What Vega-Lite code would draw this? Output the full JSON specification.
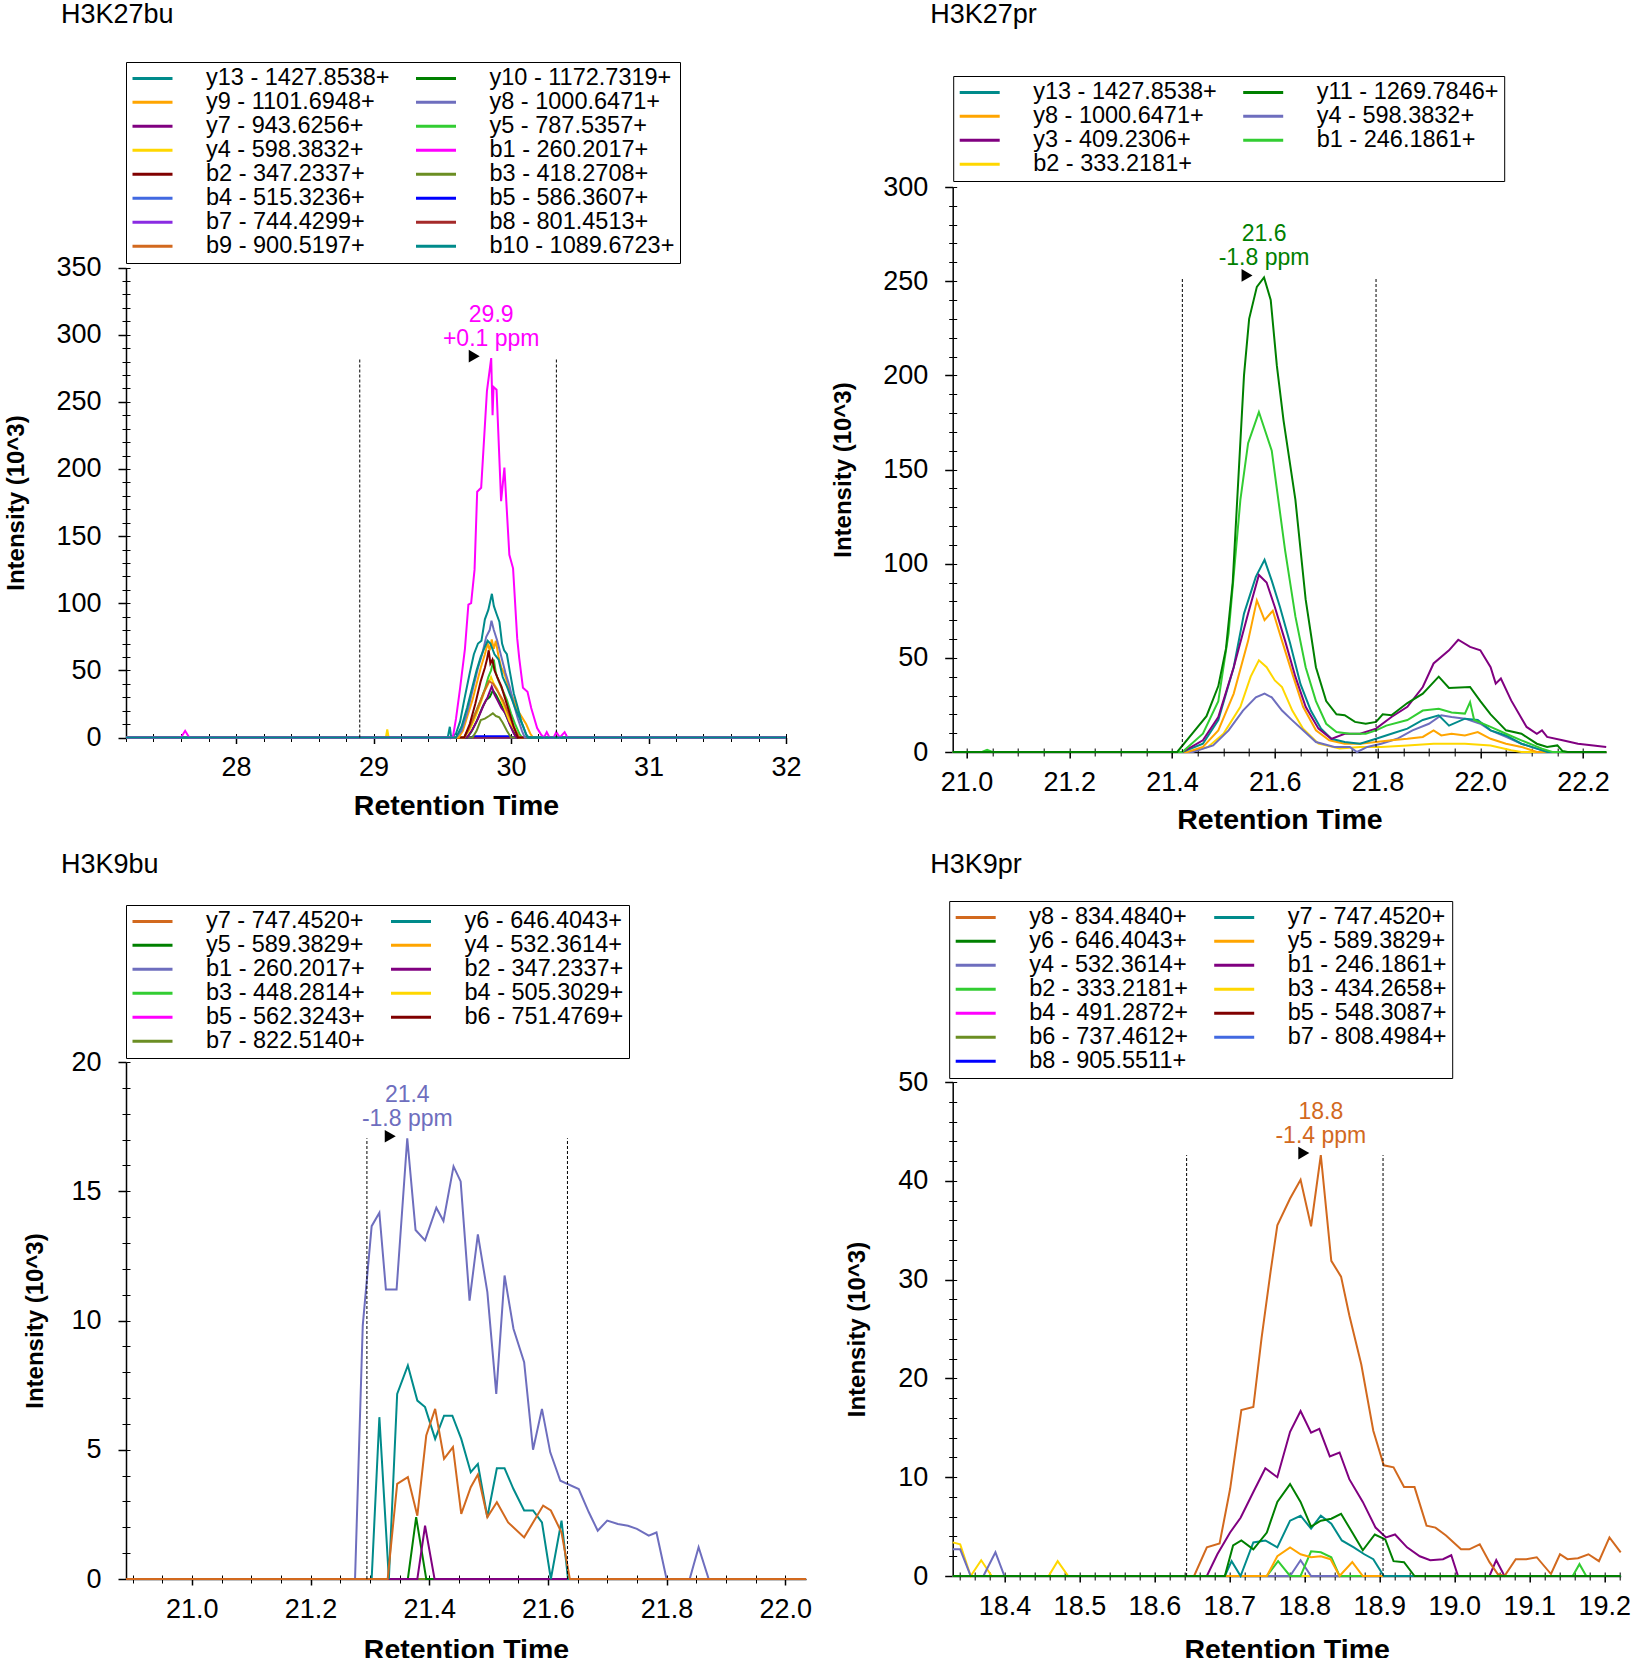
{
"$schema": "https://vega.github.io/schema/vega-lite/v6.json",
"background": "white",
"padding": {"left": 4, "top": 0, "right": 0, "bottom": 0},
"config": {
  "font": "Liberation Sans",
  "view": {"stroke": null},
  "axis": {"grid": false, "domainColor": "black", "tickColor": "black", "labelColor": "black", "titleColor": "black", "labelFontSize": 27, "labelFlush": false, "labelOverlap": false, "titleFontWeight": "bold"},
  "legend": {"orient": "none", "direction": "horizontal", "columns": 2, "strokeColor": "black", "fillColor": "white", "padding": 5, "rowPadding": 0, "columnPadding": 24.5, "labelOffset": 32, "labelLimit": 400, "labelFontSize": 23.5, "labelColor": "black", "symbolType": "stroke", "symbolSize": 1600, "symbolStrokeWidth": 3, "symbolLimit": 0, "clipHeight": 22.5},
  "title": {"fontSize": 27, "fontWeight": "normal", "color": "black", "anchor": "start", "frame": "group", "baseline": "alphabetic"}
},
"datasets": {
"d1": [
{"s":"b4 - 515.3236+","t":27.2,"v":0},{"s":"b4 - 515.3236+","t":32,"v":0},
{"s":"b7 - 744.4299+","t":27.2,"v":0},{"s":"b7 - 744.4299+","t":32,"v":0},
{"s":"b8 - 801.4513+","t":27.2,"v":0},{"s":"b8 - 801.4513+","t":32,"v":0},
{"s":"b5 - 586.3607+","t":27.2,"v":0},{"s":"b5 - 586.3607+","t":29.71,"v":0},{"s":"b5 - 586.3607+","t":29.725,"v":1},{"s":"b5 - 586.3607+","t":29.995,"v":1},{"s":"b5 - 586.3607+","t":30.005,"v":0},{"s":"b5 - 586.3607+","t":32,"v":0},
{"s":"b3 - 418.2708+","t":27.2,"v":0},{"s":"b3 - 418.2708+","t":29.72,"v":0},{"s":"b3 - 418.2708+","t":29.75,"v":5},{"s":"b3 - 418.2708+","t":29.78,"v":13},{"s":"b3 - 418.2708+","t":29.81,"v":14},{"s":"b3 - 418.2708+","t":29.84,"v":16},{"s":"b3 - 418.2708+","t":29.868,"v":18},{"s":"b3 - 418.2708+","t":29.89,"v":16},{"s":"b3 - 418.2708+","t":29.915,"v":15},{"s":"b3 - 418.2708+","t":29.94,"v":11},{"s":"b3 - 418.2708+","t":29.97,"v":5},{"s":"b3 - 418.2708+","t":30.0,"v":0},{"s":"b3 - 418.2708+","t":32,"v":0},
{"s":"y10 - 1172.7319+","t":27.2,"v":0},{"s":"y10 - 1172.7319+","t":29.68,"v":0},{"s":"y10 - 1172.7319+","t":29.71,"v":4},{"s":"y10 - 1172.7319+","t":29.75,"v":12},{"s":"y10 - 1172.7319+","t":29.79,"v":22},{"s":"y10 - 1172.7319+","t":29.82,"v":28},{"s":"y10 - 1172.7319+","t":29.845,"v":30},{"s":"y10 - 1172.7319+","t":29.868,"v":35},{"s":"y10 - 1172.7319+","t":29.89,"v":32},{"s":"y10 - 1172.7319+","t":29.91,"v":28},{"s":"y10 - 1172.7319+","t":29.94,"v":22},{"s":"y10 - 1172.7319+","t":29.97,"v":15},{"s":"y10 - 1172.7319+","t":30.0,"v":8},{"s":"y10 - 1172.7319+","t":30.03,"v":2},{"s":"y10 - 1172.7319+","t":30.05,"v":0},{"s":"y10 - 1172.7319+","t":32,"v":0},
{"s":"y7 - 943.6256+","t":27.2,"v":0},{"s":"y7 - 943.6256+","t":29.68,"v":0},{"s":"y7 - 943.6256+","t":29.72,"v":6},{"s":"y7 - 943.6256+","t":29.76,"v":14},{"s":"y7 - 943.6256+","t":29.8,"v":24},{"s":"y7 - 943.6256+","t":29.83,"v":30},{"s":"y7 - 943.6256+","t":29.86,"v":38},{"s":"y7 - 943.6256+","t":29.88,"v":32},{"s":"y7 - 943.6256+","t":29.9,"v":28},{"s":"y7 - 943.6256+","t":29.93,"v":22},{"s":"y7 - 943.6256+","t":29.96,"v":18},{"s":"y7 - 943.6256+","t":29.99,"v":10},{"s":"y7 - 943.6256+","t":30.02,"v":3},{"s":"y7 - 943.6256+","t":30.04,"v":0},{"s":"y7 - 943.6256+","t":32,"v":0},
{"s":"y4 - 598.3832+","t":27.2,"v":0},{"s":"y4 - 598.3832+","t":29.09,"v":0},{"s":"y4 - 598.3832+","t":29.1,"v":6},{"s":"y4 - 598.3832+","t":29.11,"v":0},{"s":"y4 - 598.3832+","t":29.66,"v":0},{"s":"y4 - 598.3832+","t":29.7,"v":6},{"s":"y4 - 598.3832+","t":29.74,"v":15},{"s":"y4 - 598.3832+","t":29.78,"v":26},{"s":"y4 - 598.3832+","t":29.81,"v":35},{"s":"y4 - 598.3832+","t":29.835,"v":40},{"s":"y4 - 598.3832+","t":29.855,"v":45},{"s":"y4 - 598.3832+","t":29.875,"v":40},{"s":"y4 - 598.3832+","t":29.9,"v":36},{"s":"y4 - 598.3832+","t":29.93,"v":28},{"s":"y4 - 598.3832+","t":29.96,"v":20},{"s":"y4 - 598.3832+","t":29.99,"v":12},{"s":"y4 - 598.3832+","t":30.03,"v":5},{"s":"y4 - 598.3832+","t":30.06,"v":0},{"s":"y4 - 598.3832+","t":32,"v":0},
{"s":"y5 - 787.5357+","t":27.2,"v":0},{"s":"y5 - 787.5357+","t":29.66,"v":0},{"s":"y5 - 787.5357+","t":29.7,"v":8},{"s":"y5 - 787.5357+","t":29.74,"v":18},{"s":"y5 - 787.5357+","t":29.78,"v":28},{"s":"y5 - 787.5357+","t":29.81,"v":36},{"s":"y5 - 787.5357+","t":29.835,"v":45},{"s":"y5 - 787.5357+","t":29.855,"v":50},{"s":"y5 - 787.5357+","t":29.875,"v":58},{"s":"y5 - 787.5357+","t":29.89,"v":48},{"s":"y5 - 787.5357+","t":29.91,"v":42},{"s":"y5 - 787.5357+","t":29.94,"v":35},{"s":"y5 - 787.5357+","t":29.97,"v":28},{"s":"y5 - 787.5357+","t":30.0,"v":18},{"s":"y5 - 787.5357+","t":30.03,"v":10},{"s":"y5 - 787.5357+","t":30.06,"v":3},{"s":"y5 - 787.5357+","t":30.08,"v":0},{"s":"y5 - 787.5357+","t":32,"v":0},
{"s":"b9 - 900.5197+","t":27.2,"v":0},{"s":"b9 - 900.5197+","t":29.66,"v":0},{"s":"b9 - 900.5197+","t":29.7,"v":8},{"s":"b9 - 900.5197+","t":29.75,"v":20},{"s":"b9 - 900.5197+","t":29.8,"v":33},{"s":"b9 - 900.5197+","t":29.84,"v":42},{"s":"b9 - 900.5197+","t":29.87,"v":40},{"s":"b9 - 900.5197+","t":29.9,"v":35},{"s":"b9 - 900.5197+","t":29.94,"v":28},{"s":"b9 - 900.5197+","t":29.98,"v":18},{"s":"b9 - 900.5197+","t":30.02,"v":8},{"s":"b9 - 900.5197+","t":30.06,"v":0},{"s":"b9 - 900.5197+","t":32,"v":0},
{"s":"b2 - 347.2337+","t":27.2,"v":0},{"s":"b2 - 347.2337+","t":29.66,"v":0},{"s":"b2 - 347.2337+","t":29.7,"v":10},{"s":"b2 - 347.2337+","t":29.74,"v":25},{"s":"b2 - 347.2337+","t":29.78,"v":42},{"s":"b2 - 347.2337+","t":29.81,"v":52},{"s":"b2 - 347.2337+","t":29.825,"v":58},{"s":"b2 - 347.2337+","t":29.838,"v":65},{"s":"b2 - 347.2337+","t":29.85,"v":55},{"s":"b2 - 347.2337+","t":29.865,"v":58},{"s":"b2 - 347.2337+","t":29.88,"v":50},{"s":"b2 - 347.2337+","t":29.9,"v":45},{"s":"b2 - 347.2337+","t":29.93,"v":38},{"s":"b2 - 347.2337+","t":29.96,"v":28},{"s":"b2 - 347.2337+","t":29.99,"v":18},{"s":"b2 - 347.2337+","t":30.02,"v":8},{"s":"b2 - 347.2337+","t":30.05,"v":0},{"s":"b2 - 347.2337+","t":32,"v":0},
{"s":"y9 - 1101.6948+","t":27.2,"v":0},{"s":"y9 - 1101.6948+","t":29.62,"v":0},{"s":"y9 - 1101.6948+","t":29.65,"v":5},{"s":"y9 - 1101.6948+","t":29.68,"v":15},{"s":"y9 - 1101.6948+","t":29.72,"v":28},{"s":"y9 - 1101.6948+","t":29.75,"v":40},{"s":"y9 - 1101.6948+","t":29.78,"v":52},{"s":"y9 - 1101.6948+","t":29.81,"v":62},{"s":"y9 - 1101.6948+","t":29.83,"v":70},{"s":"y9 - 1101.6948+","t":29.845,"v":65},{"s":"y9 - 1101.6948+","t":29.86,"v":73},{"s":"y9 - 1101.6948+","t":29.875,"v":66},{"s":"y9 - 1101.6948+","t":29.89,"v":72},{"s":"y9 - 1101.6948+","t":29.91,"v":60},{"s":"y9 - 1101.6948+","t":29.93,"v":52},{"s":"y9 - 1101.6948+","t":29.95,"v":48},{"s":"y9 - 1101.6948+","t":29.97,"v":42},{"s":"y9 - 1101.6948+","t":29.99,"v":35},{"s":"y9 - 1101.6948+","t":30.02,"v":28},{"s":"y9 - 1101.6948+","t":30.05,"v":20},{"s":"y9 - 1101.6948+","t":30.08,"v":15},{"s":"y9 - 1101.6948+","t":30.11,"v":10},{"s":"y9 - 1101.6948+","t":30.14,"v":3},{"s":"y9 - 1101.6948+","t":30.16,"v":0},{"s":"y9 - 1101.6948+","t":32,"v":0},
{"s":"y8 - 1000.6471+","t":27.2,"v":0},{"s":"y8 - 1000.6471+","t":29.6,"v":0},{"s":"y8 - 1000.6471+","t":29.64,"v":5},{"s":"y8 - 1000.6471+","t":29.68,"v":18},{"s":"y8 - 1000.6471+","t":29.72,"v":35},{"s":"y8 - 1000.6471+","t":29.76,"v":52},{"s":"y8 - 1000.6471+","t":29.79,"v":62},{"s":"y8 - 1000.6471+","t":29.82,"v":75},{"s":"y8 - 1000.6471+","t":29.845,"v":80},{"s":"y8 - 1000.6471+","t":29.858,"v":87},{"s":"y8 - 1000.6471+","t":29.875,"v":80},{"s":"y8 - 1000.6471+","t":29.9,"v":72},{"s":"y8 - 1000.6471+","t":29.93,"v":60},{"s":"y8 - 1000.6471+","t":29.96,"v":48},{"s":"y8 - 1000.6471+","t":29.99,"v":38},{"s":"y8 - 1000.6471+","t":30.02,"v":25},{"s":"y8 - 1000.6471+","t":30.05,"v":14},{"s":"y8 - 1000.6471+","t":30.08,"v":5},{"s":"y8 - 1000.6471+","t":30.1,"v":0},{"s":"y8 - 1000.6471+","t":32,"v":0},
{"s":"y13 - 1427.8538+","t":27.2,"v":0},{"s":"y13 - 1427.8538+","t":29.54,"v":0},{"s":"y13 - 1427.8538+","t":29.555,"v":8},{"s":"y13 - 1427.8538+","t":29.565,"v":0},{"s":"y13 - 1427.8538+","t":29.6,"v":3},{"s":"y13 - 1427.8538+","t":29.63,"v":12},{"s":"y13 - 1427.8538+","t":29.66,"v":28},{"s":"y13 - 1427.8538+","t":29.7,"v":48},{"s":"y13 - 1427.8538+","t":29.73,"v":62},{"s":"y13 - 1427.8538+","t":29.76,"v":70},{"s":"y13 - 1427.8538+","t":29.785,"v":72},{"s":"y13 - 1427.8538+","t":29.81,"v":88},{"s":"y13 - 1427.8538+","t":29.835,"v":95},{"s":"y13 - 1427.8538+","t":29.861,"v":107},{"s":"y13 - 1427.8538+","t":29.875,"v":98},{"s":"y13 - 1427.8538+","t":29.895,"v":92},{"s":"y13 - 1427.8538+","t":29.916,"v":86},{"s":"y13 - 1427.8538+","t":29.935,"v":70},{"s":"y13 - 1427.8538+","t":29.95,"v":65},{"s":"y13 - 1427.8538+","t":29.97,"v":62},{"s":"y13 - 1427.8538+","t":29.99,"v":50},{"s":"y13 - 1427.8538+","t":30.02,"v":33},{"s":"y13 - 1427.8538+","t":30.05,"v":22},{"s":"y13 - 1427.8538+","t":30.075,"v":12},{"s":"y13 - 1427.8538+","t":30.11,"v":2},{"s":"y13 - 1427.8538+","t":30.13,"v":0},{"s":"y13 - 1427.8538+","t":32,"v":0},
{"s":"b1 - 260.2017+","t":27.2,"v":0},{"s":"b1 - 260.2017+","t":27.6,"v":0},{"s":"b1 - 260.2017+","t":27.63,"v":5},{"s":"b1 - 260.2017+","t":27.66,"v":0},{"s":"b1 - 260.2017+","t":29.577,"v":0},{"s":"b1 - 260.2017+","t":29.6,"v":14},{"s":"b1 - 260.2017+","t":29.63,"v":37},{"s":"b1 - 260.2017+","t":29.665,"v":66},{"s":"b1 - 260.2017+","t":29.69,"v":99},{"s":"b1 - 260.2017+","t":29.71,"v":100},{"s":"b1 - 260.2017+","t":29.735,"v":125},{"s":"b1 - 260.2017+","t":29.754,"v":183},{"s":"b1 - 260.2017+","t":29.783,"v":186},{"s":"b1 - 260.2017+","t":29.825,"v":258},{"s":"b1 - 260.2017+","t":29.856,"v":282.5},{"s":"b1 - 260.2017+","t":29.866,"v":240},{"s":"b1 - 260.2017+","t":29.873,"v":261},{"s":"b1 - 260.2017+","t":29.895,"v":259},{"s":"b1 - 260.2017+","t":29.928,"v":176},{"s":"b1 - 260.2017+","t":29.952,"v":201},{"s":"b1 - 260.2017+","t":29.988,"v":136},{"s":"b1 - 260.2017+","t":30.015,"v":126},{"s":"b1 - 260.2017+","t":30.045,"v":74},{"s":"b1 - 260.2017+","t":30.06,"v":59},{"s":"b1 - 260.2017+","t":30.087,"v":37},{"s":"b1 - 260.2017+","t":30.12,"v":34},{"s":"b1 - 260.2017+","t":30.147,"v":22},{"s":"b1 - 260.2017+","t":30.17,"v":14},{"s":"b1 - 260.2017+","t":30.19,"v":7},{"s":"b1 - 260.2017+","t":30.22,"v":2},{"s":"b1 - 260.2017+","t":30.24,"v":0},{"s":"b1 - 260.2017+","t":30.26,"v":4},{"s":"b1 - 260.2017+","t":30.28,"v":0},{"s":"b1 - 260.2017+","t":30.31,"v":0},{"s":"b1 - 260.2017+","t":30.33,"v":4},{"s":"b1 - 260.2017+","t":30.355,"v":0},{"s":"b1 - 260.2017+","t":30.39,"v":4},{"s":"b1 - 260.2017+","t":30.41,"v":0},{"s":"b1 - 260.2017+","t":32,"v":0},
{"s":"b10 - 1089.6723+","t":27.2,"v":0},{"s":"b10 - 1089.6723+","t":29.6,"v":0},{"s":"b10 - 1089.6723+","t":29.64,"v":8},{"s":"b10 - 1089.6723+","t":29.68,"v":22},{"s":"b10 - 1089.6723+","t":29.72,"v":38},{"s":"b10 - 1089.6723+","t":29.75,"v":50},{"s":"b10 - 1089.6723+","t":29.78,"v":60},{"s":"b10 - 1089.6723+","t":29.8,"v":65},{"s":"b10 - 1089.6723+","t":29.83,"v":72},{"s":"b10 - 1089.6723+","t":29.85,"v":70},{"s":"b10 - 1089.6723+","t":29.88,"v":62},{"s":"b10 - 1089.6723+","t":29.91,"v":58},{"s":"b10 - 1089.6723+","t":29.94,"v":45},{"s":"b10 - 1089.6723+","t":29.97,"v":38},{"s":"b10 - 1089.6723+","t":30.0,"v":30},{"s":"b10 - 1089.6723+","t":30.03,"v":22},{"s":"b10 - 1089.6723+","t":30.06,"v":15},{"s":"b10 - 1089.6723+","t":30.09,"v":8},{"s":"b10 - 1089.6723+","t":30.12,"v":0},{"s":"b10 - 1089.6723+","t":32,"v":0}
],
"d2": [
{"s":"b2 - 333.2181+","t":20.973,"v":0},{"s":"b2 - 333.2181+","t":21.437,"v":0},{"s":"b2 - 333.2181+","t":21.47,"v":2.7},{"s":"b2 - 333.2181+","t":21.5,"v":9.7},{"s":"b2 - 333.2181+","t":21.533,"v":24},{"s":"b2 - 333.2181+","t":21.553,"v":40},{"s":"b2 - 333.2181+","t":21.569,"v":48.7},{"s":"b2 - 333.2181+","t":21.584,"v":45},{"s":"b2 - 333.2181+","t":21.6,"v":38},{"s":"b2 - 333.2181+","t":21.614,"v":34.5},{"s":"b2 - 333.2181+","t":21.634,"v":22},{"s":"b2 - 333.2181+","t":21.655,"v":12.4},{"s":"b2 - 333.2181+","t":21.685,"v":4.4},{"s":"b2 - 333.2181+","t":21.726,"v":1.8},{"s":"b2 - 333.2181+","t":21.766,"v":2.7},{"s":"b2 - 333.2181+","t":21.807,"v":2.7},{"s":"b2 - 333.2181+","t":21.858,"v":3.5},{"s":"b2 - 333.2181+","t":21.909,"v":4.4},{"s":"b2 - 333.2181+","t":21.97,"v":4.4},{"s":"b2 - 333.2181+","t":22.02,"v":3.5},{"s":"b2 - 333.2181+","t":22.06,"v":0.9},{"s":"b2 - 333.2181+","t":22.08,"v":0},{"s":"b2 - 333.2181+","t":22.245,"v":0},
{"s":"y4 - 598.3832+","t":20.973,"v":0},{"s":"y4 - 598.3832+","t":21.44,"v":0},{"s":"y4 - 598.3832+","t":21.48,"v":3.5},{"s":"y4 - 598.3832+","t":21.51,"v":11.5},{"s":"y4 - 598.3832+","t":21.538,"v":22},{"s":"y4 - 598.3832+","t":21.563,"v":29},{"s":"y4 - 598.3832+","t":21.58,"v":31},{"s":"y4 - 598.3832+","t":21.594,"v":29},{"s":"y4 - 598.3832+","t":21.614,"v":22},{"s":"y4 - 598.3832+","t":21.634,"v":16.8},{"s":"y4 - 598.3832+","t":21.655,"v":11.5},{"s":"y4 - 598.3832+","t":21.68,"v":5.3},{"s":"y4 - 598.3832+","t":21.716,"v":2.7},{"s":"y4 - 598.3832+","t":21.746,"v":2.7},{"s":"y4 - 598.3832+","t":21.76,"v":0},{"s":"y4 - 598.3832+","t":21.78,"v":2.7},{"s":"y4 - 598.3832+","t":21.807,"v":4.4},{"s":"y4 - 598.3832+","t":21.838,"v":7},{"s":"y4 - 598.3832+","t":21.868,"v":11.5},{"s":"y4 - 598.3832+","t":21.9,"v":15},{"s":"y4 - 598.3832+","t":21.924,"v":19.5},{"s":"y4 - 598.3832+","t":21.944,"v":18.6},{"s":"y4 - 598.3832+","t":21.97,"v":17.7},{"s":"y4 - 598.3832+","t":22.0,"v":15},{"s":"y4 - 598.3832+","t":22.02,"v":11.5},{"s":"y4 - 598.3832+","t":22.05,"v":8},{"s":"y4 - 598.3832+","t":22.08,"v":4.4},{"s":"y4 - 598.3832+","t":22.11,"v":1.8},{"s":"y4 - 598.3832+","t":22.13,"v":0},{"s":"y4 - 598.3832+","t":22.245,"v":0},
{"s":"y8 - 1000.6471+","t":20.973,"v":0},{"s":"y8 - 1000.6471+","t":21.43,"v":0},{"s":"y8 - 1000.6471+","t":21.46,"v":2.7},{"s":"y8 - 1000.6471+","t":21.49,"v":11.5},{"s":"y8 - 1000.6471+","t":21.52,"v":31},{"s":"y8 - 1000.6471+","t":21.548,"v":59},{"s":"y8 - 1000.6471+","t":21.565,"v":80.5},{"s":"y8 - 1000.6471+","t":21.58,"v":70},{"s":"y8 - 1000.6471+","t":21.596,"v":75},{"s":"y8 - 1000.6471+","t":21.614,"v":59},{"s":"y8 - 1000.6471+","t":21.634,"v":41.6},{"s":"y8 - 1000.6471+","t":21.655,"v":24},{"s":"y8 - 1000.6471+","t":21.68,"v":11.5},{"s":"y8 - 1000.6471+","t":21.706,"v":6.2},{"s":"y8 - 1000.6471+","t":21.736,"v":4.4},{"s":"y8 - 1000.6471+","t":21.766,"v":4.4},{"s":"y8 - 1000.6471+","t":21.797,"v":5.3},{"s":"y8 - 1000.6471+","t":21.827,"v":6.2},{"s":"y8 - 1000.6471+","t":21.858,"v":7},{"s":"y8 - 1000.6471+","t":21.888,"v":8},{"s":"y8 - 1000.6471+","t":21.909,"v":11.5},{"s":"y8 - 1000.6471+","t":21.924,"v":8.8},{"s":"y8 - 1000.6471+","t":21.944,"v":9.7},{"s":"y8 - 1000.6471+","t":21.97,"v":8.8},{"s":"y8 - 1000.6471+","t":21.995,"v":10.6},{"s":"y8 - 1000.6471+","t":22.02,"v":7},{"s":"y8 - 1000.6471+","t":22.05,"v":4.4},{"s":"y8 - 1000.6471+","t":22.08,"v":2.7},{"s":"y8 - 1000.6471+","t":22.1,"v":0.9},{"s":"y8 - 1000.6471+","t":22.11,"v":0},{"s":"y8 - 1000.6471+","t":22.245,"v":0},
{"s":"y13 - 1427.8538+","t":20.973,"v":0},{"s":"y13 - 1427.8538+","t":21.42,"v":0},{"s":"y13 - 1427.8538+","t":21.46,"v":4.4},{"s":"y13 - 1427.8538+","t":21.49,"v":17},{"s":"y13 - 1427.8538+","t":21.52,"v":45},{"s":"y13 - 1427.8538+","t":21.54,"v":73.5},{"s":"y13 - 1427.8538+","t":21.563,"v":93},{"s":"y13 - 1427.8538+","t":21.58,"v":102},{"s":"y13 - 1427.8538+","t":21.594,"v":91},{"s":"y13 - 1427.8538+","t":21.61,"v":77},{"s":"y13 - 1427.8538+","t":21.63,"v":57.5},{"s":"y13 - 1427.8538+","t":21.65,"v":36},{"s":"y13 - 1427.8538+","t":21.67,"v":22},{"s":"y13 - 1427.8538+","t":21.69,"v":12.4},{"s":"y13 - 1427.8538+","t":21.71,"v":7},{"s":"y13 - 1427.8538+","t":21.736,"v":5.3},{"s":"y13 - 1427.8538+","t":21.766,"v":4.4},{"s":"y13 - 1427.8538+","t":21.797,"v":7},{"s":"y13 - 1427.8538+","t":21.827,"v":9.7},{"s":"y13 - 1427.8538+","t":21.858,"v":12.4},{"s":"y13 - 1427.8538+","t":21.888,"v":17},{"s":"y13 - 1427.8538+","t":21.919,"v":19.5},{"s":"y13 - 1427.8538+","t":21.939,"v":14},{"s":"y13 - 1427.8538+","t":21.97,"v":17.7},{"s":"y13 - 1427.8538+","t":21.995,"v":17},{"s":"y13 - 1427.8538+","t":22.02,"v":11.5},{"s":"y13 - 1427.8538+","t":22.05,"v":8.8},{"s":"y13 - 1427.8538+","t":22.08,"v":4.4},{"s":"y13 - 1427.8538+","t":22.11,"v":1.8},{"s":"y13 - 1427.8538+","t":22.13,"v":0},{"s":"y13 - 1427.8538+","t":22.245,"v":0},
{"s":"y3 - 409.2306+","t":20.973,"v":0},{"s":"y3 - 409.2306+","t":21.42,"v":0},{"s":"y3 - 409.2306+","t":21.46,"v":6.2},{"s":"y3 - 409.2306+","t":21.49,"v":18.6},{"s":"y3 - 409.2306+","t":21.52,"v":45},{"s":"y3 - 409.2306+","t":21.548,"v":73.5},{"s":"y3 - 409.2306+","t":21.569,"v":94},{"s":"y3 - 409.2306+","t":21.584,"v":90},{"s":"y3 - 409.2306+","t":21.6,"v":77},{"s":"y3 - 409.2306+","t":21.62,"v":59},{"s":"y3 - 409.2306+","t":21.64,"v":40},{"s":"y3 - 409.2306+","t":21.66,"v":24},{"s":"y3 - 409.2306+","t":21.685,"v":12.4},{"s":"y3 - 409.2306+","t":21.71,"v":7},{"s":"y3 - 409.2306+","t":21.736,"v":9.7},{"s":"y3 - 409.2306+","t":21.766,"v":9.7},{"s":"y3 - 409.2306+","t":21.797,"v":12.4},{"s":"y3 - 409.2306+","t":21.827,"v":18.6},{"s":"y3 - 409.2306+","t":21.858,"v":24},{"s":"y3 - 409.2306+","t":21.888,"v":34.5},{"s":"y3 - 409.2306+","t":21.909,"v":47},{"s":"y3 - 409.2306+","t":21.939,"v":54},{"s":"y3 - 409.2306+","t":21.957,"v":59.6},{"s":"y3 - 409.2306+","t":21.98,"v":55.8},{"s":"y3 - 409.2306+","t":22.0,"v":54},{"s":"y3 - 409.2306+","t":22.02,"v":45},{"s":"y3 - 409.2306+","t":22.03,"v":36.3},{"s":"y3 - 409.2306+","t":22.04,"v":39},{"s":"y3 - 409.2306+","t":22.06,"v":27.4},{"s":"y3 - 409.2306+","t":22.09,"v":13.3},{"s":"y3 - 409.2306+","t":22.11,"v":9.7},{"s":"y3 - 409.2306+","t":22.12,"v":11.5},{"s":"y3 - 409.2306+","t":22.13,"v":8},{"s":"y3 - 409.2306+","t":22.16,"v":6.2},{"s":"y3 - 409.2306+","t":22.19,"v":4.4},{"s":"y3 - 409.2306+","t":22.22,"v":3.5},{"s":"y3 - 409.2306+","t":22.245,"v":2.7},
{"s":"b1 - 246.1861+","t":20.973,"v":0},{"s":"b1 - 246.1861+","t":21.03,"v":0},{"s":"b1 - 246.1861+","t":21.04,"v":1.2},{"s":"b1 - 246.1861+","t":21.05,"v":0},{"s":"b1 - 246.1861+","t":21.42,"v":0},{"s":"b1 - 246.1861+","t":21.46,"v":9.7},{"s":"b1 - 246.1861+","t":21.49,"v":27},{"s":"b1 - 246.1861+","t":21.51,"v":63},{"s":"b1 - 246.1861+","t":21.533,"v":134},{"s":"b1 - 246.1861+","t":21.548,"v":164},{"s":"b1 - 246.1861+","t":21.569,"v":180.5},{"s":"b1 - 246.1861+","t":21.594,"v":160},{"s":"b1 - 246.1861+","t":21.62,"v":107},{"s":"b1 - 246.1861+","t":21.64,"v":72},{"s":"b1 - 246.1861+","t":21.66,"v":45},{"s":"b1 - 246.1861+","t":21.68,"v":27},{"s":"b1 - 246.1861+","t":21.7,"v":15},{"s":"b1 - 246.1861+","t":21.72,"v":10.6},{"s":"b1 - 246.1861+","t":21.746,"v":9.7},{"s":"b1 - 246.1861+","t":21.777,"v":9.7},{"s":"b1 - 246.1861+","t":21.797,"v":11.5},{"s":"b1 - 246.1861+","t":21.817,"v":14},{"s":"b1 - 246.1861+","t":21.858,"v":17},{"s":"b1 - 246.1861+","t":21.888,"v":22},{"s":"b1 - 246.1861+","t":21.919,"v":23},{"s":"b1 - 246.1861+","t":21.944,"v":21},{"s":"b1 - 246.1861+","t":21.97,"v":20.4},{"s":"b1 - 246.1861+","t":21.98,"v":26.5},{"s":"b1 - 246.1861+","t":21.988,"v":17},{"s":"b1 - 246.1861+","t":22.02,"v":13.3},{"s":"b1 - 246.1861+","t":22.05,"v":9.7},{"s":"b1 - 246.1861+","t":22.08,"v":6.2},{"s":"b1 - 246.1861+","t":22.12,"v":1.8},{"s":"b1 - 246.1861+","t":22.14,"v":0},{"s":"b1 - 246.1861+","t":22.245,"v":0},
{"s":"y11 - 1269.7846+","t":20.973,"v":0},{"s":"y11 - 1269.7846+","t":21.41,"v":0},{"s":"y11 - 1269.7846+","t":21.44,"v":10},{"s":"y11 - 1269.7846+","t":21.467,"v":19},{"s":"y11 - 1269.7846+","t":21.49,"v":35},{"s":"y11 - 1269.7846+","t":21.505,"v":55},{"s":"y11 - 1269.7846+","t":21.518,"v":90},{"s":"y11 - 1269.7846+","t":21.53,"v":150},{"s":"y11 - 1269.7846+","t":21.54,"v":200},{"s":"y11 - 1269.7846+","t":21.55,"v":230},{"s":"y11 - 1269.7846+","t":21.565,"v":247},{"s":"y11 - 1269.7846+","t":21.579,"v":252},{"s":"y11 - 1269.7846+","t":21.592,"v":240},{"s":"y11 - 1269.7846+","t":21.604,"v":205},{"s":"y11 - 1269.7846+","t":21.617,"v":176},{"s":"y11 - 1269.7846+","t":21.64,"v":134},{"s":"y11 - 1269.7846+","t":21.66,"v":81},{"s":"y11 - 1269.7846+","t":21.68,"v":45},{"s":"y11 - 1269.7846+","t":21.7,"v":27},{"s":"y11 - 1269.7846+","t":21.72,"v":20},{"s":"y11 - 1269.7846+","t":21.736,"v":19.5},{"s":"y11 - 1269.7846+","t":21.756,"v":16},{"s":"y11 - 1269.7846+","t":21.777,"v":15},{"s":"y11 - 1269.7846+","t":21.797,"v":16},{"s":"y11 - 1269.7846+","t":21.81,"v":20},{"s":"y11 - 1269.7846+","t":21.827,"v":19.5},{"s":"y11 - 1269.7846+","t":21.858,"v":26},{"s":"y11 - 1269.7846+","t":21.888,"v":31},{"s":"y11 - 1269.7846+","t":21.919,"v":40},{"s":"y11 - 1269.7846+","t":21.939,"v":34},{"s":"y11 - 1269.7846+","t":21.98,"v":34.5},{"s":"y11 - 1269.7846+","t":22.0,"v":27},{"s":"y11 - 1269.7846+","t":22.02,"v":20},{"s":"y11 - 1269.7846+","t":22.05,"v":11.5},{"s":"y11 - 1269.7846+","t":22.08,"v":9.7},{"s":"y11 - 1269.7846+","t":22.11,"v":4.4},{"s":"y11 - 1269.7846+","t":22.13,"v":2.7},{"s":"y11 - 1269.7846+","t":22.15,"v":3.5},{"s":"y11 - 1269.7846+","t":22.16,"v":0.5},{"s":"y11 - 1269.7846+","t":22.17,"v":0},{"s":"y11 - 1269.7846+","t":22.245,"v":0}
],
"d3": [
{"s":"y4 - 532.3614+","t":20.889,"v":0},{"s":"y4 - 532.3614+","t":22.035,"v":0},
{"s":"b3 - 448.2814+","t":20.889,"v":0},{"s":"b3 - 448.2814+","t":22.035,"v":0},
{"s":"b4 - 505.3029+","t":20.889,"v":0},{"s":"b4 - 505.3029+","t":22.035,"v":0},
{"s":"b5 - 562.3243+","t":20.889,"v":0},{"s":"b5 - 562.3243+","t":22.035,"v":0},
{"s":"b6 - 751.4769+","t":20.889,"v":0},{"s":"b6 - 751.4769+","t":22.035,"v":0},
{"s":"b7 - 822.5140+","t":20.889,"v":0},{"s":"b7 - 822.5140+","t":22.035,"v":0},
{"s":"y5 - 589.3829+","t":20.889,"v":0},{"s":"y5 - 589.3829+","t":21.364,"v":0},{"s":"y5 - 589.3829+","t":21.378,"v":2.39},{"s":"y5 - 589.3829+","t":21.395,"v":0},{"s":"y5 - 589.3829+","t":22.035,"v":0},
{"s":"b2 - 347.2337+","t":20.889,"v":0},{"s":"b2 - 347.2337+","t":21.38,"v":0},{"s":"b2 - 347.2337+","t":21.393,"v":2.06},{"s":"b2 - 347.2337+","t":21.409,"v":0},{"s":"b2 - 347.2337+","t":22.035,"v":0},
{"s":"b1 - 260.2017+","t":20.889,"v":0},{"s":"b1 - 260.2017+","t":21.275,"v":0},{"s":"b1 - 260.2017+","t":21.288,"v":9.8},{"s":"b1 - 260.2017+","t":21.303,"v":13.65},{"s":"b1 - 260.2017+","t":21.316,"v":14.17},{"s":"b1 - 260.2017+","t":21.327,"v":11.2},{"s":"b1 - 260.2017+","t":21.345,"v":11.2},{"s":"b1 - 260.2017+","t":21.363,"v":17.05},{"s":"b1 - 260.2017+","t":21.377,"v":13.5},{"s":"b1 - 260.2017+","t":21.393,"v":13.1},{"s":"b1 - 260.2017+","t":21.412,"v":14.36},{"s":"b1 - 260.2017+","t":21.424,"v":13.85},{"s":"b1 - 260.2017+","t":21.441,"v":15.96},{"s":"b1 - 260.2017+","t":21.453,"v":15.38},{"s":"b1 - 260.2017+","t":21.468,"v":10.77},{"s":"b1 - 260.2017+","t":21.482,"v":13.33},{"s":"b1 - 260.2017+","t":21.498,"v":11.1},{"s":"b1 - 260.2017+","t":21.513,"v":7.16},{"s":"b1 - 260.2017+","t":21.527,"v":11.74},{"s":"b1 - 260.2017+","t":21.542,"v":9.68},{"s":"b1 - 260.2017+","t":21.56,"v":8.39},{"s":"b1 - 260.2017+","t":21.575,"v":5.0},{"s":"b1 - 260.2017+","t":21.59,"v":6.58},{"s":"b1 - 260.2017+","t":21.604,"v":4.9},{"s":"b1 - 260.2017+","t":21.621,"v":3.8},{"s":"b1 - 260.2017+","t":21.652,"v":3.48},{"s":"b1 - 260.2017+","t":21.669,"v":2.58},{"s":"b1 - 260.2017+","t":21.684,"v":1.87},{"s":"b1 - 260.2017+","t":21.7,"v":2.26},{"s":"b1 - 260.2017+","t":21.718,"v":2.13},{"s":"b1 - 260.2017+","t":21.735,"v":2.06},{"s":"b1 - 260.2017+","t":21.75,"v":1.94},{"s":"b1 - 260.2017+","t":21.77,"v":1.68},{"s":"b1 - 260.2017+","t":21.783,"v":1.8},{"s":"b1 - 260.2017+","t":21.8,"v":0},{"s":"b1 - 260.2017+","t":21.839,"v":0},{"s":"b1 - 260.2017+","t":21.854,"v":1.23},{"s":"b1 - 260.2017+","t":21.871,"v":0},{"s":"b1 - 260.2017+","t":22.035,"v":0},
{"s":"y6 - 646.4043+","t":20.889,"v":0},{"s":"y6 - 646.4043+","t":21.303,"v":0},{"s":"y6 - 646.4043+","t":21.316,"v":6.26},{"s":"y6 - 646.4043+","t":21.332,"v":0},{"s":"y6 - 646.4043+","t":21.346,"v":7.16},{"s":"y6 - 646.4043+","t":21.364,"v":8.26},{"s":"y6 - 646.4043+","t":21.38,"v":6.9},{"s":"y6 - 646.4043+","t":21.393,"v":6.65},{"s":"y6 - 646.4043+","t":21.41,"v":5.42},{"s":"y6 - 646.4043+","t":21.425,"v":6.32},{"s":"y6 - 646.4043+","t":21.439,"v":6.32},{"s":"y6 - 646.4043+","t":21.454,"v":5.42},{"s":"y6 - 646.4043+","t":21.47,"v":4.13},{"s":"y6 - 646.4043+","t":21.482,"v":4.45},{"s":"y6 - 646.4043+","t":21.498,"v":2.39},{"s":"y6 - 646.4043+","t":21.514,"v":4.28},{"s":"y6 - 646.4043+","t":21.527,"v":4.28},{"s":"y6 - 646.4043+","t":21.542,"v":3.48},{"s":"y6 - 646.4043+","t":21.56,"v":2.65},{"s":"y6 - 646.4043+","t":21.575,"v":2.65},{"s":"y6 - 646.4043+","t":21.59,"v":2.19},{"s":"y6 - 646.4043+","t":21.605,"v":0},{"s":"y6 - 646.4043+","t":21.623,"v":2.26},{"s":"y6 - 646.4043+","t":21.634,"v":0},{"s":"y6 - 646.4043+","t":22.035,"v":0},
{"s":"y7 - 747.4520+","t":20.889,"v":0},{"s":"y7 - 747.4520+","t":21.33,"v":0},{"s":"y7 - 747.4520+","t":21.346,"v":3.68},{"s":"y7 - 747.4520+","t":21.364,"v":3.94},{"s":"y7 - 747.4520+","t":21.38,"v":2.45},{"s":"y7 - 747.4520+","t":21.395,"v":5.55},{"s":"y7 - 747.4520+","t":21.41,"v":6.58},{"s":"y7 - 747.4520+","t":21.425,"v":4.65},{"s":"y7 - 747.4520+","t":21.44,"v":5.1},{"s":"y7 - 747.4520+","t":21.454,"v":2.52},{"s":"y7 - 747.4520+","t":21.47,"v":3.55},{"s":"y7 - 747.4520+","t":21.482,"v":4.04},{"s":"y7 - 747.4520+","t":21.498,"v":2.39},{"s":"y7 - 747.4520+","t":21.514,"v":2.97},{"s":"y7 - 747.4520+","t":21.533,"v":2.19},{"s":"y7 - 747.4520+","t":21.56,"v":1.61},{"s":"y7 - 747.4520+","t":21.592,"v":2.84},{"s":"y7 - 747.4520+","t":21.605,"v":2.65},{"s":"y7 - 747.4520+","t":21.623,"v":1.8},{"s":"y7 - 747.4520+","t":21.637,"v":0},{"s":"y7 - 747.4520+","t":22.035,"v":0}
],
"d4": [
{"s":"b4 - 491.2872+","t":18.331,"v":0},{"s":"b4 - 491.2872+","t":19.222,"v":0},
{"s":"b5 - 548.3087+","t":18.331,"v":0},{"s":"b5 - 548.3087+","t":19.222,"v":0},
{"s":"b6 - 737.4612+","t":18.331,"v":0},{"s":"b6 - 737.4612+","t":19.222,"v":0},
{"s":"b7 - 808.4984+","t":18.331,"v":0},{"s":"b7 - 808.4984+","t":19.222,"v":0},
{"s":"b8 - 905.5511+","t":18.331,"v":0},{"s":"b8 - 905.5511+","t":19.222,"v":0},
{"s":"b3 - 434.2658+","t":18.331,"v":3.4},{"s":"b3 - 434.2658+","t":18.341,"v":3.2},{"s":"b3 - 434.2658+","t":18.355,"v":0},{"s":"b3 - 434.2658+","t":18.369,"v":1.6},{"s":"b3 - 434.2658+","t":18.383,"v":0},{"s":"b3 - 434.2658+","t":18.459,"v":0},{"s":"b3 - 434.2658+","t":18.471,"v":1.5},{"s":"b3 - 434.2658+","t":18.485,"v":0},{"s":"b3 - 434.2658+","t":19.222,"v":0},
{"s":"y4 - 532.3614+","t":18.331,"v":2.7},{"s":"y4 - 532.3614+","t":18.341,"v":2.7},{"s":"y4 - 532.3614+","t":18.355,"v":0},{"s":"y4 - 532.3614+","t":18.372,"v":0},{"s":"y4 - 532.3614+","t":18.388,"v":2.4},{"s":"y4 - 532.3614+","t":18.4,"v":0},{"s":"y4 - 532.3614+","t":18.781,"v":0},{"s":"y4 - 532.3614+","t":18.795,"v":1.6},{"s":"y4 - 532.3614+","t":18.809,"v":0},{"s":"y4 - 532.3614+","t":19.222,"v":0},
{"s":"b2 - 333.2181+","t":18.331,"v":0},{"s":"b2 - 333.2181+","t":18.75,"v":0},{"s":"b2 - 333.2181+","t":18.765,"v":1.5},{"s":"b2 - 333.2181+","t":18.781,"v":0},{"s":"b2 - 333.2181+","t":18.795,"v":0},{"s":"b2 - 333.2181+","t":18.809,"v":2.5},{"s":"b2 - 333.2181+","t":18.822,"v":2.4},{"s":"b2 - 333.2181+","t":18.836,"v":1.9},{"s":"b2 - 333.2181+","t":18.847,"v":0},{"s":"b2 - 333.2181+","t":19.158,"v":0},{"s":"b2 - 333.2181+","t":19.167,"v":1.2},{"s":"b2 - 333.2181+","t":19.176,"v":0},{"s":"b2 - 333.2181+","t":19.222,"v":0},
{"s":"y5 - 589.3829+","t":18.331,"v":0},{"s":"y5 - 589.3829+","t":18.75,"v":0},{"s":"y5 - 589.3829+","t":18.764,"v":2.0},{"s":"y5 - 589.3829+","t":18.781,"v":2.9},{"s":"y5 - 589.3829+","t":18.795,"v":2.2},{"s":"y5 - 589.3829+","t":18.809,"v":1.9},{"s":"y5 - 589.3829+","t":18.822,"v":2.0},{"s":"y5 - 589.3829+","t":18.835,"v":1.7},{"s":"y5 - 589.3829+","t":18.847,"v":0},{"s":"y5 - 589.3829+","t":18.864,"v":1.4},{"s":"y5 - 589.3829+","t":18.878,"v":0},{"s":"y5 - 589.3829+","t":19.222,"v":0},
{"s":"b1 - 246.1861+","t":18.331,"v":0},{"s":"b1 - 246.1861+","t":18.67,"v":0},{"s":"b1 - 246.1861+","t":18.684,"v":2.2},{"s":"b1 - 246.1861+","t":18.701,"v":4.4},{"s":"b1 - 246.1861+","t":18.715,"v":5.9},{"s":"b1 - 246.1861+","t":18.732,"v":8.5},{"s":"b1 - 246.1861+","t":18.748,"v":10.9},{"s":"b1 - 246.1861+","t":18.764,"v":10.0},{"s":"b1 - 246.1861+","t":18.781,"v":14.6},{"s":"b1 - 246.1861+","t":18.795,"v":16.7},{"s":"b1 - 246.1861+","t":18.809,"v":14.5},{"s":"b1 - 246.1861+","t":18.82,"v":14.9},{"s":"b1 - 246.1861+","t":18.834,"v":12.1},{"s":"b1 - 246.1861+","t":18.847,"v":12.5},{"s":"b1 - 246.1861+","t":18.86,"v":9.8},{"s":"b1 - 246.1861+","t":18.878,"v":7.5},{"s":"b1 - 246.1861+","t":18.895,"v":4.9},{"s":"b1 - 246.1861+","t":18.909,"v":3.9},{"s":"b1 - 246.1861+","t":18.921,"v":4.2},{"s":"b1 - 246.1861+","t":18.937,"v":2.9},{"s":"b1 - 246.1861+","t":18.954,"v":2.0},{"s":"b1 - 246.1861+","t":18.968,"v":1.6},{"s":"b1 - 246.1861+","t":18.985,"v":1.7},{"s":"b1 - 246.1861+","t":18.996,"v":2.1},{"s":"b1 - 246.1861+","t":19.005,"v":0},{"s":"b1 - 246.1861+","t":19.047,"v":0},{"s":"b1 - 246.1861+","t":19.056,"v":1.6},{"s":"b1 - 246.1861+","t":19.067,"v":0},{"s":"b1 - 246.1861+","t":19.222,"v":0},
{"s":"y8 - 834.4840+","t":18.331,"v":0},{"s":"y8 - 834.4840+","t":18.653,"v":0},{"s":"y8 - 834.4840+","t":18.67,"v":2.9},{"s":"y8 - 834.4840+","t":18.687,"v":3.3},{"s":"y8 - 834.4840+","t":18.701,"v":8.8},{"s":"y8 - 834.4840+","t":18.716,"v":16.8},{"s":"y8 - 834.4840+","t":18.732,"v":17.1},{"s":"y8 - 834.4840+","t":18.743,"v":24.1},{"s":"y8 - 834.4840+","t":18.755,"v":30.8},{"s":"y8 - 834.4840+","t":18.764,"v":35.5},{"s":"y8 - 834.4840+","t":18.781,"v":38.2},{"s":"y8 - 834.4840+","t":18.795,"v":40.1},{"s":"y8 - 834.4840+","t":18.809,"v":35.4},{"s":"y8 - 834.4840+","t":18.822,"v":42.6},{"s":"y8 - 834.4840+","t":18.836,"v":31.9},{"s":"y8 - 834.4840+","t":18.849,"v":30.3},{"s":"y8 - 834.4840+","t":18.86,"v":26.4},{"s":"y8 - 834.4840+","t":18.876,"v":21.4},{"s":"y8 - 834.4840+","t":18.892,"v":14.7},{"s":"y8 - 834.4840+","t":18.906,"v":11.2},{"s":"y8 - 834.4840+","t":18.919,"v":11.0},{"s":"y8 - 834.4840+","t":18.933,"v":9.0},{"s":"y8 - 834.4840+","t":18.947,"v":9.0},{"s":"y8 - 834.4840+","t":18.963,"v":5.1},{"s":"y8 - 834.4840+","t":18.975,"v":4.9},{"s":"y8 - 834.4840+","t":18.989,"v":4.1},{"s":"y8 - 834.4840+","t":19.009,"v":2.7},{"s":"y8 - 834.4840+","t":19.02,"v":2.7},{"s":"y8 - 834.4840+","t":19.034,"v":3.2},{"s":"y8 - 834.4840+","t":19.047,"v":1.4},{"s":"y8 - 834.4840+","t":19.058,"v":0.2},{"s":"y8 - 834.4840+","t":19.067,"v":0},{"s":"y8 - 834.4840+","t":19.082,"v":1.7},{"s":"y8 - 834.4840+","t":19.096,"v":1.7},{"s":"y8 - 834.4840+","t":19.11,"v":1.9},{"s":"y8 - 834.4840+","t":19.129,"v":0.2},{"s":"y8 - 834.4840+","t":19.141,"v":2.2},{"s":"y8 - 834.4840+","t":19.151,"v":1.7},{"s":"y8 - 834.4840+","t":19.165,"v":1.8},{"s":"y8 - 834.4840+","t":19.179,"v":2.2},{"s":"y8 - 834.4840+","t":19.193,"v":1.5},{"s":"y8 - 834.4840+","t":19.207,"v":3.9},{"s":"y8 - 834.4840+","t":19.222,"v":2.4},
{"s":"y7 - 747.4520+","t":18.331,"v":0},{"s":"y7 - 747.4520+","t":18.694,"v":0},{"s":"y7 - 747.4520+","t":18.703,"v":1.5},{"s":"y7 - 747.4520+","t":18.715,"v":0},{"s":"y7 - 747.4520+","t":18.732,"v":3.4},{"s":"y7 - 747.4520+","t":18.748,"v":3.6},{"s":"y7 - 747.4520+","t":18.764,"v":2.9},{"s":"y7 - 747.4520+","t":18.781,"v":5.6},{"s":"y7 - 747.4520+","t":18.795,"v":6.1},{"s":"y7 - 747.4520+","t":18.809,"v":4.8},{"s":"y7 - 747.4520+","t":18.822,"v":6.1},{"s":"y7 - 747.4520+","t":18.836,"v":5.3},{"s":"y7 - 747.4520+","t":18.85,"v":3.6},{"s":"y7 - 747.4520+","t":18.866,"v":2.9},{"s":"y7 - 747.4520+","t":18.88,"v":2.2},{"s":"y7 - 747.4520+","t":18.892,"v":1.7},{"s":"y7 - 747.4520+","t":18.906,"v":0},{"s":"y7 - 747.4520+","t":19.222,"v":0},
{"s":"y6 - 646.4043+","t":18.331,"v":0},{"s":"y6 - 646.4043+","t":18.694,"v":0},{"s":"y6 - 646.4043+","t":18.705,"v":3.1},{"s":"y6 - 646.4043+","t":18.716,"v":3.6},{"s":"y6 - 646.4043+","t":18.732,"v":2.7},{"s":"y6 - 646.4043+","t":18.75,"v":4.4},{"s":"y6 - 646.4043+","t":18.764,"v":7.5},{"s":"y6 - 646.4043+","t":18.781,"v":9.3},{"s":"y6 - 646.4043+","t":18.795,"v":7.5},{"s":"y6 - 646.4043+","t":18.809,"v":5.0},{"s":"y6 - 646.4043+","t":18.822,"v":5.6},{"s":"y6 - 646.4043+","t":18.836,"v":5.8},{"s":"y6 - 646.4043+","t":18.849,"v":6.3},{"s":"y6 - 646.4043+","t":18.864,"v":4.4},{"s":"y6 - 646.4043+","t":18.878,"v":2.6},{"s":"y6 - 646.4043+","t":18.894,"v":4.2},{"s":"y6 - 646.4043+","t":18.908,"v":3.7},{"s":"y6 - 646.4043+","t":18.919,"v":1.5},{"s":"y6 - 646.4043+","t":18.933,"v":1.4},{"s":"y6 - 646.4043+","t":18.947,"v":0},{"s":"y6 - 646.4043+","t":19.222,"v":0}
]
},
"columns": 2,
"spacing": {"row": 310, "column": 146.7},
"bounds": "flush",
"align": "each",
"resolve": {"scale": {"color": "independent"}, "legend": {"color": "independent"}},
"concat": [
{
 "width": 660, "height": 550.5,
 "title": {"text": "H3K27bu", "dx": -65, "offset": 33},
 "layer": [
  {"data": {"name": "d1"}, "mark": {"type": "line", "strokeWidth": 2},
   "encoding": {
    "x": {"field": "t", "type": "quantitative", "scale": {"domain": [27.2, 32], "nice": false, "zero": false},
      "axis": {"orient": "bottom", "values": [28,29,30,31,32], "format": "d", "tickSize": 6, "tickWidth": 1.5, "domainWidth": 1.5, "labelPadding": 11, "title": "Retention Time", "titleFontSize": 28.5, "titleY": 76.5, "titleBaseline": "alphabetic"}},
    "y": {"field": "v", "type": "quantitative", "scale": {"domain": [0, 350], "range": [550.5, 80.5], "nice": false},
      "axis": {"orient": "left", "values": [0,50,100,150,200,250,300,350], "tickSize": 8, "tickWidth": 1.5, "domainWidth": 1.5, "labelPadding": 17, "title": "Intensity (10^3)", "titleFontSize": 24, "titleX": -103, "titleBaseline": "alphabetic"}},
    "color": {"field": "s", "type": "nominal",
      "scale": {"domain": ["y13 - 1427.8538+","y10 - 1172.7319+","y9 - 1101.6948+","y8 - 1000.6471+","y7 - 943.6256+","y5 - 787.5357+","y4 - 598.3832+","b1 - 260.2017+","b2 - 347.2337+","b3 - 418.2708+","b4 - 515.3236+","b5 - 586.3607+","b7 - 744.4299+","b8 - 801.4513+","b9 - 900.5197+","b10 - 1089.6723+"],
        "range": ["#008B8B","#008000","#FFA500","#6E6EBE","#800080","#32CD32","#FFD700","#FF00FF","#800000","#6B8E23","#4169E1","#0000FF","#8A2BE2","#A52A2A","#D2691E","#008B8B"]},
      "legend": {"orient": "none", "direction": "horizontal", "legendX": 0, "legendY": -125, "columns": 2, "title": null}}
   }},
  {"data": {"values": [{"t": 28.9, "v0": 0, "v1": 282.5}, {"t": 30.33, "v0": 0, "v1": 282.5}]},
   "mark": {"type": "rule", "color": "black", "strokeWidth": 1, "strokeDash": [3, 2]},
   "encoding": {
    "x": {"field": "t", "type": "quantitative", "scale": {"domain": [27.2, 32], "nice": false, "zero": false},
      "axis": {"orient": "bottom", "values": [27.2,27.4,27.6,27.8,28,28.2,28.4,28.6,28.8,29,29.2,29.4,29.6,29.8,30,30.2,30.4,30.6,30.8,31,31.2,31.4,31.6,31.8,32], "tickSize": -4, "tickWidth": 1, "labels": false, "domain": false, "title": null}},
    "y": {"field": "v0", "type": "quantitative", "scale": {"domain": [0, 350], "range": [550.5, 80.5], "nice": false},
      "axis": {"orient": "left", "values": [0,10,20,30,40,50,60,70,80,90,100,110,120,130,140,150,160,170,180,190,200,210,220,230,240,250,260,270,280,290,300,310,320,330,340,350], "tickSize": -4, "tickWidth": 1, "labels": false, "domain": false, "title": null}},
    "y2": {"field": "v1"}
   }},
  {"data": {"values": [{"t": 29.856, "v": 282.5, "l1": "29.9", "l2": "+0.1 ppm"}]},
   "mark": {"type": "point", "shape": "triangle-right", "filled": true, "color": "black", "opacity": 1, "size": 160, "xOffset": -17, "yOffset": -2},
   "encoding": {
    "x": {"field": "t", "type": "quantitative", "scale": {"domain": [27.2, 32], "nice": false, "zero": false},
      "axis": {"orient": "bottom", "values": [27.2,27.4,27.6,27.8,28.2,28.4,28.6,28.8,29.2,29.4,29.6,29.8,30.2,30.4,30.6,30.8,31.2,31.4,31.6,31.8], "tickSize": 4, "tickWidth": 1, "labels": false, "domain": false, "title": null}},
    "y": {"field": "v", "type": "quantitative", "scale": {"domain": [0, 350], "range": [550.5, 80.5], "nice": false},
      "axis": {"orient": "left", "values": [10,20,30,40,60,70,80,90,110,120,130,140,160,170,180,190,210,220,230,240,260,270,280,290,310,320,330,340], "tickSize": 4, "tickWidth": 1, "labels": false, "domain": false, "title": null}}
   }},
  {"data": {"values": [{"t": 29.856, "v": 282.5, "l1": "29.9", "l2": "+0.1 ppm"}]},
   "mark": {"type": "text", "color": "#FF00FF", "fontSize": 23, "dy": -43},
   "encoding": {"x": {"field": "t", "type": "quantitative", "axis": null}, "y": {"field": "v", "type": "quantitative", "axis": null}, "text": {"field": "l1"}}},
  {"data": {"values": [{"t": 29.856, "v": 282.5, "l1": "29.9", "l2": "+0.1 ppm"}]},
   "mark": {"type": "text", "color": "#FF00FF", "fontSize": 23, "dy": -19},
   "encoding": {"x": {"field": "t", "type": "quantitative", "axis": null}, "y": {"field": "v", "type": "quantitative", "axis": null}, "text": {"field": "l2"}}}
 ],
 "resolve": {"axis": {"x": "independent", "y": "independent"}}
},
{
 "width": 653.5, "height": 565,
 "title": {"text": "H3K27pr", "dx": -22.5, "offset": 47},
 "layer": [
  {"data": {"name": "d2"}, "mark": {"type": "line", "strokeWidth": 2},
   "encoding": {
    "x": {"field": "t", "type": "quantitative", "scale": {"domain": [20.973, 22.245], "nice": false, "zero": false},
      "axis": {"orient": "bottom", "values": [21.0,21.2,21.4,21.6,21.8,22.0,22.2], "format": ".1f", "tickSize": 6, "tickWidth": 1.5, "domainWidth": 1.5, "labelPadding": 11, "title": "Retention Time", "titleFontSize": 28.5, "titleY": 76, "titleBaseline": "alphabetic"}},
    "y": {"field": "v", "type": "quantitative", "scale": {"domain": [0, 300], "nice": false},
      "axis": {"orient": "left", "values": [0,50,100,150,200,250,300], "tickSize": 8, "tickWidth": 1.5, "domainWidth": 1.5, "labelPadding": 17, "title": "Intensity (10^3)", "titleFontSize": 24, "titleX": -102.5, "titleBaseline": "alphabetic"}},
    "color": {"field": "s", "type": "nominal",
      "scale": {"domain": ["y13 - 1427.8538+","y11 - 1269.7846+","y8 - 1000.6471+","y4 - 598.3832+","y3 - 409.2306+","b1 - 246.1861+","b2 - 333.2181+"],
        "range": ["#008B8B","#008000","#FFA500","#6E6EBE","#800080","#32CD32","#FFD700"]},
      "legend": {"orient": "none", "direction": "horizontal", "legendX": 0.5, "legendY": -111, "columns": 2, "title": null}}
   }},
  {"data": {"values": [{"t": 21.42, "v0": 0, "v1": 252}, {"t": 21.797, "v0": 0, "v1": 252}]},
   "mark": {"type": "rule", "color": "black", "strokeWidth": 1, "strokeDash": [3, 2]},
   "encoding": {
    "x": {"field": "t", "type": "quantitative", "scale": {"domain": [20.973, 22.245], "nice": false, "zero": false},
      "axis": {"orient": "bottom", "values": [21,21.05,21.1,21.15,21.2,21.25,21.3,21.35,21.4,21.45,21.5,21.55,21.6,21.65,21.7,21.75,21.8,21.85,21.9,21.95,22,22.05,22.1,22.15,22.2], "tickSize": -4, "tickWidth": 1, "labels": false, "domain": false, "title": null}},
    "y": {"field": "v0", "type": "quantitative", "scale": {"domain": [0, 300], "nice": false},
      "axis": {"orient": "left", "values": [0,10,20,30,40,50,60,70,80,90,100,110,120,130,140,150,160,170,180,190,200,210,220,230,240,250,260,270,280,290,300], "tickSize": -4, "tickWidth": 1, "labels": false, "domain": false, "title": null}},
    "y2": {"field": "v1"}
   }},
  {"data": {"values": [{"t": 21.579, "v": 252, "l1": "21.6", "l2": "-1.8 ppm"}]},
   "mark": {"type": "point", "shape": "triangle-right", "filled": true, "color": "black", "opacity": 1, "size": 160, "xOffset": -17, "yOffset": -2},
   "encoding": {
    "x": {"field": "t", "type": "quantitative", "scale": {"domain": [20.973, 22.245], "nice": false, "zero": false},
      "axis": {"orient": "bottom", "values": [21.05,21.1,21.15,21.25,21.3,21.35,21.45,21.5,21.55,21.65,21.7,21.75,21.85,21.9,21.95,22.05,22.1,22.15], "tickSize": 4, "tickWidth": 1, "labels": false, "domain": false, "title": null}},
    "y": {"field": "v", "type": "quantitative", "scale": {"domain": [0, 300], "nice": false},
      "axis": {"orient": "left", "values": [10,20,30,40,60,70,80,90,110,120,130,140,160,170,180,190,210,220,230,240,260,270,280,290], "tickSize": 4, "tickWidth": 1, "labels": false, "domain": false, "title": null}}
   }},
  {"data": {"values": [{"t": 21.579, "v": 252, "l1": "21.6", "l2": "-1.8 ppm"}]},
   "mark": {"type": "text", "color": "#008000", "fontSize": 23, "dy": -43},
   "encoding": {"x": {"field": "t", "type": "quantitative", "axis": null}, "y": {"field": "v", "type": "quantitative", "axis": null}, "text": {"field": "l1"}}},
  {"data": {"values": [{"t": 21.579, "v": 252, "l1": "21.6", "l2": "-1.8 ppm"}]},
   "mark": {"type": "text", "color": "#008000", "fontSize": 23, "dy": -19},
   "encoding": {"x": {"field": "t", "type": "quantitative", "axis": null}, "y": {"field": "v", "type": "quantitative", "axis": null}, "text": {"field": "l2"}}}
 ],
 "resolve": {"axis": {"x": "independent", "y": "independent"}}
},
{
 "width": 680, "height": 517,
 "title": {"text": "H3K9bu", "dx": -65, "offset": 26},
 "layer": [
  {"data": {"name": "d3"}, "mark": {"type": "line", "strokeWidth": 2},
   "encoding": {
    "x": {"field": "t", "type": "quantitative", "scale": {"domain": [20.889, 22.035], "nice": false, "zero": false},
      "axis": {"orient": "bottom", "values": [21.0,21.2,21.4,21.6,21.8,22.0], "format": ".1f", "tickSize": 6, "tickWidth": 1.5, "domainWidth": 1.5, "labelPadding": 11, "title": "Retention Time", "titleFontSize": 28.5, "titleY": 79.5, "titleBaseline": "alphabetic"}},
    "y": {"field": "v", "type": "quantitative", "scale": {"domain": [0, 20], "nice": false},
      "axis": {"orient": "left", "values": [0,5,10,15,20], "tickSize": 8, "tickWidth": 1.5, "domainWidth": 1.5, "labelPadding": 17, "title": "Intensity (10^3)", "titleFontSize": 24, "titleX": -84, "titleBaseline": "alphabetic"}},
    "color": {"field": "s", "type": "nominal",
      "scale": {"domain": ["y7 - 747.4520+","y6 - 646.4043+","y5 - 589.3829+","y4 - 532.3614+","b1 - 260.2017+","b2 - 347.2337+","b3 - 448.2814+","b4 - 505.3029+","b5 - 562.3243+","b6 - 751.4769+","b7 - 822.5140+"],
        "range": ["#D2691E","#008B8B","#008000","#FFA500","#6E6EBE","#800080","#32CD32","#FFD700","#FF00FF","#800000","#6B8E23"]},
      "legend": {"orient": "none", "direction": "horizontal", "legendX": 0, "legendY": -157, "columns": 2, "title": null}}
   }},
  {"data": {"values": [{"t": 21.295, "v0": 0, "v1": 17.05}, {"t": 21.633, "v0": 0, "v1": 17.05}]},
   "mark": {"type": "rule", "color": "black", "strokeWidth": 1, "strokeDash": [3, 2]},
   "encoding": {
    "x": {"field": "t", "type": "quantitative", "scale": {"domain": [20.889, 22.035], "nice": false, "zero": false},
      "axis": {"orient": "bottom", "values": [20.9,20.95,21,21.05,21.1,21.15,21.2,21.25,21.3,21.35,21.4,21.45,21.5,21.55,21.6,21.65,21.7,21.75,21.8,21.85,21.9,21.95,22], "tickSize": -4, "tickWidth": 1, "labels": false, "domain": false, "title": null}},
    "y": {"field": "v0", "type": "quantitative", "scale": {"domain": [0, 20], "nice": false},
      "axis": {"orient": "left", "values": [0,1,2,3,4,5,6,7,8,9,10,11,12,13,14,15,16,17,18,19,20], "tickSize": -4, "tickWidth": 1, "labels": false, "domain": false, "title": null}},
    "y2": {"field": "v1"}
   }},
  {"data": {"values": [{"t": 21.363, "v": 17.05, "l1": "21.4", "l2": "-1.8 ppm"}]},
   "mark": {"type": "point", "shape": "triangle-right", "filled": true, "color": "black", "opacity": 1, "size": 160, "xOffset": -17, "yOffset": -2},
   "encoding": {
    "x": {"field": "t", "type": "quantitative", "scale": {"domain": [20.889, 22.035], "nice": false, "zero": false},
      "axis": {"orient": "bottom", "values": [20.9,20.95,21.05,21.1,21.15,21.25,21.3,21.35,21.45,21.5,21.55,21.65,21.7,21.75,21.85,21.9,21.95], "tickSize": 4, "tickWidth": 1, "labels": false, "domain": false, "title": null}},
    "y": {"field": "v", "type": "quantitative", "scale": {"domain": [0, 20], "nice": false},
      "axis": {"orient": "left", "values": [1,2,3,4,6,7,8,9,11,12,13,14,16,17,18,19], "tickSize": 4, "tickWidth": 1, "labels": false, "domain": false, "title": null}}
   }},
  {"data": {"values": [{"t": 21.363, "v": 17.05, "l1": "21.4", "l2": "-1.8 ppm"}]},
   "mark": {"type": "text", "color": "#6E6EBE", "fontSize": 23, "dy": -43},
   "encoding": {"x": {"field": "t", "type": "quantitative", "axis": null}, "y": {"field": "v", "type": "quantitative", "axis": null}, "text": {"field": "l1"}}},
  {"data": {"values": [{"t": 21.363, "v": 17.05, "l1": "21.4", "l2": "-1.8 ppm"}]},
   "mark": {"type": "text", "color": "#6E6EBE", "fontSize": 23, "dy": -19},
   "encoding": {"x": {"field": "t", "type": "quantitative", "axis": null}, "y": {"field": "v", "type": "quantitative", "axis": null}, "text": {"field": "l2"}}}
 ],
 "resolve": {"axis": {"x": "independent", "y": "independent"}}
},
{
 "width": 668, "height": 514,
 "title": {"text": "H3K9pr", "dx": -22.5, "offset": 22},
 "layer": [
  {"data": {"name": "d4"}, "mark": {"type": "line", "strokeWidth": 2},
   "encoding": {
    "x": {"field": "t", "type": "quantitative", "scale": {"domain": [18.331, 19.222], "nice": false, "zero": false},
      "axis": {"orient": "bottom", "values": [18.4,18.5,18.6,18.7,18.8,18.9,19.0,19.1,19.2], "format": ".1f", "tickSize": 6, "tickWidth": 1.5, "domainWidth": 1.5, "labelPadding": 11, "title": "Retention Time", "titleFontSize": 28.5, "titleY": 82.5, "titleBaseline": "alphabetic"}},
    "y": {"field": "v", "type": "quantitative", "scale": {"domain": [0, 50], "range": [514, 20], "nice": false},
      "axis": {"orient": "left", "values": [0,10,20,30,40,50], "tickSize": 8, "tickWidth": 1.5, "domainWidth": 1.5, "labelPadding": 17, "title": "Intensity (10^3)", "titleFontSize": 24, "titleX": -88.5, "titleBaseline": "alphabetic"}},
    "color": {"field": "s", "type": "nominal",
      "scale": {"domain": ["y8 - 834.4840+","y7 - 747.4520+","y6 - 646.4043+","y5 - 589.3829+","y4 - 532.3614+","b1 - 246.1861+","b2 - 333.2181+","b3 - 434.2658+","b4 - 491.2872+","b5 - 548.3087+","b6 - 737.4612+","b7 - 808.4984+","b8 - 905.5511+"],
        "range": ["#D2691E","#008B8B","#008000","#FFA500","#6E6EBE","#800080","#32CD32","#FFD700","#FF00FF","#800000","#6B8E23","#4169E1","#0000FF"]},
      "legend": {"orient": "none", "direction": "horizontal", "legendX": -3.5, "legendY": -161, "columns": 2, "title": null}}
   }},
  {"data": {"values": [{"t": 18.643, "v0": 0, "v1": 42.6}, {"t": 18.905, "v0": 0, "v1": 42.6}]},
   "mark": {"type": "rule", "color": "black", "strokeWidth": 1, "strokeDash": [3, 2]},
   "encoding": {
    "x": {"field": "t", "type": "quantitative", "scale": {"domain": [18.331, 19.222], "nice": false, "zero": false},
      "axis": {"orient": "bottom", "values": [18.34,18.36,18.38,18.4,18.42,18.44,18.46,18.48,18.5,18.52,18.54,18.56,18.58,18.6,18.62,18.64,18.66,18.68,18.7,18.72,18.74,18.76,18.78,18.8,18.82,18.84,18.86,18.88,18.9,18.92,18.94,18.96,18.98,19,19.02,19.04,19.06,19.08,19.1,19.12,19.14,19.16,19.18,19.2,19.22], "tickSize": -4, "tickWidth": 1, "labels": false, "domain": false, "title": null}},
    "y": {"field": "v0", "type": "quantitative", "scale": {"domain": [0, 50], "range": [514, 20], "nice": false},
      "axis": {"orient": "left", "values": [0,2,4,6,8,10,12,14,16,18,20,22,24,26,28,30,32,34,36,38,40,42,44,46,48,50], "tickSize": -4, "tickWidth": 1, "labels": false, "domain": false, "title": null}},
    "y2": {"field": "v1"}
   }},
  {"data": {"values": [{"t": 18.822, "v": 42.6, "l1": "18.8", "l2": "-1.4 ppm"}]},
   "mark": {"type": "point", "shape": "triangle-right", "filled": true, "color": "black", "opacity": 1, "size": 160, "xOffset": -17, "yOffset": -2},
   "encoding": {
    "x": {"field": "t", "type": "quantitative", "scale": {"domain": [18.331, 19.222], "nice": false, "zero": false},
      "axis": {"orient": "bottom", "values": [18.34,18.36,18.38,18.42,18.44,18.46,18.48,18.52,18.54,18.56,18.58,18.62,18.64,18.66,18.68,18.72,18.74,18.76,18.78,18.82,18.84,18.86,18.88,18.92,18.94,18.96,18.98,19.02,19.04,19.06,19.08,19.12,19.14,19.16,19.18,19.22], "tickSize": 4, "tickWidth": 1, "labels": false, "domain": false, "title": null}},
    "y": {"field": "v", "type": "quantitative", "scale": {"domain": [0, 50], "range": [514, 20], "nice": false},
      "axis": {"orient": "left", "values": [2,4,6,8,12,14,16,18,22,24,26,28,32,34,36,38,42,44,46,48], "tickSize": 4, "tickWidth": 1, "labels": false, "domain": false, "title": null}}
   }},
  {"data": {"values": [{"t": 18.822, "v": 42.6, "l1": "18.8", "l2": "-1.4 ppm"}]},
   "mark": {"type": "text", "color": "#D2691E", "fontSize": 23, "dy": -43},
   "encoding": {"x": {"field": "t", "type": "quantitative", "axis": null}, "y": {"field": "v", "type": "quantitative", "axis": null}, "text": {"field": "l1"}}},
  {"data": {"values": [{"t": 18.822, "v": 42.6, "l1": "18.8", "l2": "-1.4 ppm"}]},
   "mark": {"type": "text", "color": "#D2691E", "fontSize": 23, "dy": -19},
   "encoding": {"x": {"field": "t", "type": "quantitative", "axis": null}, "y": {"field": "v", "type": "quantitative", "axis": null}, "text": {"field": "l2"}}}
 ],
 "resolve": {"axis": {"x": "independent", "y": "independent"}}
}
]
}
